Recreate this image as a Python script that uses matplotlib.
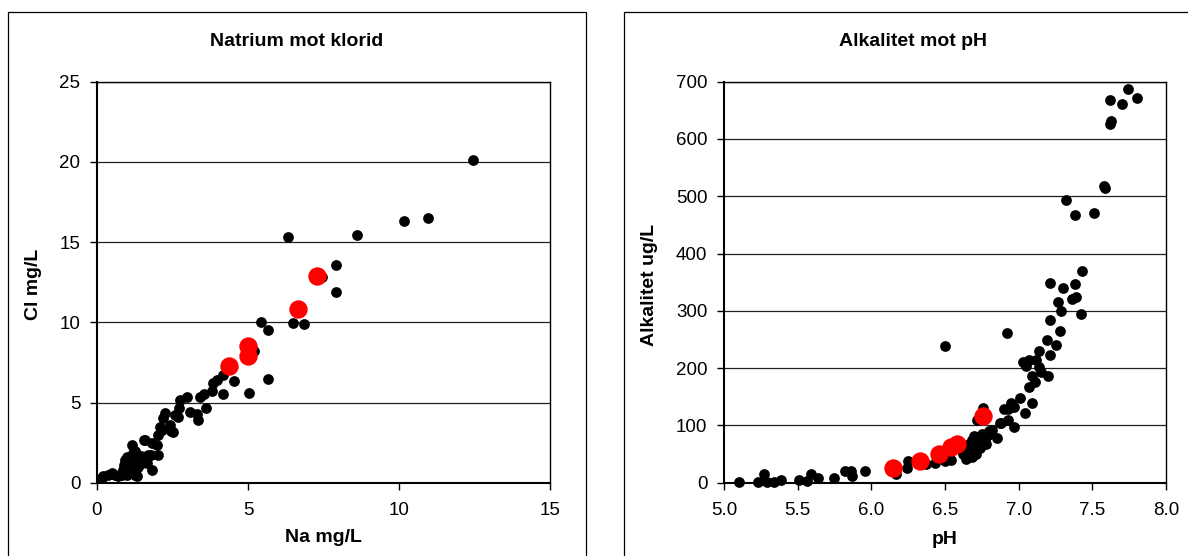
import matplotlib
matplotlib.use('Agg')
import matplotlib.pyplot as plt
from matplotlib.patches import Rectangle
from matplotlib.ticker import FormatStrFormatter

plt.rcParams['font.family'] = ['Liberation Sans', 'DejaVu Sans']

# Natrium mot klorid (black = all samples, red = highlighted)
na = [12.46, 10.97, 10.17, 8.62, 6.32, 7.93, 7.45, 7.93, 6.50, 6.86,
      5.42, 5.67, 5.20, 4.54, 5.67, 5.02, 4.18, 4.18, 3.96, 3.80,
      3.85, 3.60, 3.40, 3.35, 3.30, 3.08, 2.97, 2.75, 2.69, 2.70,
      2.58, 2.53, 2.45, 2.42, 2.25, 2.20, 2.14, 2.08, 2.03, 1.98,
      2.03, 1.81, 1.81, 1.59, 1.55, 1.45, 1.37, 1.20, 1.15, 1.09,
      0.93, 0.87, 1.31, 1.26, 0.71, 0.49, 0.21, 0.16, 1.00, 1.07,
      0.82, 1.80, 1.64, 1.43, 3.54, 1.00, 1.10, 0.90, 1.20, 1.35,
      0.60, 1.50, 1.70, 0.35, 1.25]
cl = [20.1, 16.5, 16.3, 15.45, 15.3, 13.6, 12.8, 11.9, 9.97, 9.87,
      9.99, 9.5, 8.2, 6.36, 6.47, 5.62, 5.51, 6.72, 6.4, 5.72,
      6.2, 4.68, 5.37, 3.92, 4.3, 4.42, 5.36, 5.15, 4.11, 4.65,
      4.2, 3.18, 3.2, 3.59, 4.32, 4.01, 3.28, 3.5, 2.97, 2.36,
      1.73, 2.46, 0.81, 2.67, 2.65, 1.65, 1.33, 1.85, 2.36, 1.02,
      1.43, 0.81, 0.39, 0.45, 0.44, 0.6, 0.39, 0.3, 0.45, 0.9,
      0.45, 1.75, 1.2, 1.54, 5.5, 1.6, 1.3, 1.1, 0.7, 1.0,
      0.45, 1.2, 1.7, 0.5, 2.0]
na_red = [4.37, 5.01, 5.01, 6.66, 7.30]
cl_red = [7.28, 8.52, 7.9, 10.8, 12.9]

# Alkalitet mot pH
ph = [5.10, 5.23, 5.27, 5.29, 5.34, 5.39, 5.51, 5.56, 5.59, 5.64,
      5.75, 5.82, 5.86, 5.87, 5.96, 6.17, 6.24, 6.25, 6.31, 6.37,
      6.43, 6.50, 6.54, 6.52, 6.64, 6.68, 6.66, 6.68, 6.70, 6.72,
      6.74, 6.76, 6.75, 6.78, 6.79, 6.80, 6.82, 6.85, 6.87, 6.90,
      6.88, 6.93, 6.97, 6.93, 6.95, 6.97, 7.01, 7.04, 7.09, 7.07,
      7.11, 7.09, 7.15, 7.20, 7.05, 7.14, 7.03, 7.07, 7.12, 7.21,
      7.14, 7.25, 7.19, 7.28, 7.21, 7.42, 7.29, 7.27, 7.36, 7.39,
      7.30, 7.38, 7.21, 7.43, 6.92, 6.50, 7.32, 7.38, 7.51, 7.585,
      7.58, 7.62, 7.63, 7.62, 7.70, 7.74, 7.80, 6.69, 6.62, 6.72,
      6.77, 6.71, 6.66]
alk = [1, 1, 16, 2, 2, 5, 5, 3, 16, 8,
       9, 20, 21, 12, 21, 15, 25, 38, 35, 33,
       35, 38, 40, 45, 42, 45, 60, 75, 82, 110,
       60, 131, 85, 68, 84, 90, 92, 78, 104, 128,
       105, 110, 97, 128, 139, 133, 147, 121, 140, 167,
       176, 186, 194, 186, 204, 202, 210, 215, 214, 223,
       230, 241, 249, 265, 284, 294, 300, 315, 320, 324,
       340, 347, 349, 369, 261, 238, 494, 468, 471, 515,
       518, 627, 632, 668, 661, 688, 671, 58, 50, 70,
       75, 50, 68]
ph_red = [6.15, 6.33, 6.46, 6.54, 6.58, 6.76]
alk_red = [25, 38, 50, 62, 67, 117]

W, H = 1188, 556
fig = plt.figure(figsize=(W / 100, H / 100), dpi=100)
fig.patch.set_facecolor('white')

# chart frames (cut by the image edge like the original)
fig.add_artist(Rectangle((8 / W, -0.1), 578 / W, 1.1 - 12 / H, transform=fig.transFigure,
                         fill=False, ec='black', lw=0.9))
fig.add_artist(Rectangle((624 / W, -0.1), 0.6, 1.1 - 12 / H, transform=fig.transFigure,
                         fill=False, ec='black', lw=0.9))

ax1 = fig.add_axes([97 / W, 73.3 / H, 453 / W, 401 / H])
ax2 = fig.add_axes([724 / W, 73.3 / H, 442 / W, 401 / H])


def style_axes(ax):
    ax.grid(axis='y', color='#202020', lw=0.9)
    ax.set_axisbelow(True)
    for side in ['left', 'bottom']:
        ax.spines[side].set_linewidth(1.5)
    for side in ['top', 'right']:
        ax.spines[side].set_linewidth(1.0)
    ax.tick_params(direction='out', length=5, width=1, labelsize=13.5, pad=9)
    ax.tick_params(axis='y', pad=7)


ax1.scatter(na, cl, s=60, c='black', lw=0, zorder=3, clip_on=False)
ax1.scatter(na_red, cl_red, s=175, c='#ff0000', lw=0, zorder=4, clip_on=False)
ax1.set_xlim(0, 15)
ax1.set_ylim(0, 25)
ax1.set_xticks([0, 5, 10, 15])
ax1.set_yticks([0, 5, 10, 15, 20, 25])
style_axes(ax1)

ax2.scatter(ph, alk, s=60, c='black', lw=0, zorder=3, clip_on=False)
ax2.scatter(ph_red, alk_red, s=175, c='#ff0000', lw=0, zorder=4, clip_on=False)
ax2.set_xlim(5.0, 8.0)
ax2.set_ylim(0, 700)
ax2.set_xticks([5.0, 5.5, 6.0, 6.5, 7.0, 7.5, 8.0])
ax2.set_yticks(range(0, 701, 100))
ax2.xaxis.set_major_formatter(FormatStrFormatter('%.1f'))
style_axes(ax2)

# titles and axis labels placed like the original layout
bold = dict(fontsize=14, fontweight='bold', ha='center', va='center')
fig.text(297 / W, 1 - 41 / H, 'Natrium mot klorid', **bold)
fig.text(913 / W, 1 - 41 / H, 'Alkalitet mot pH', **bold)
fig.text(323 / W, 1 - 538 / H, 'Na mg/L', **bold)
fig.text(945 / W, 1 - 539 / H, 'pH', **bold)
fig.text(34 / W, 1 - 284 / H, 'Cl mg/L', rotation=90, **bold)
fig.text(649 / W, 1 - 285 / H, 'Alkalitet ug/L', rotation=90, **bold)

fig.savefig('out.png', dpi=100, facecolor='white')
